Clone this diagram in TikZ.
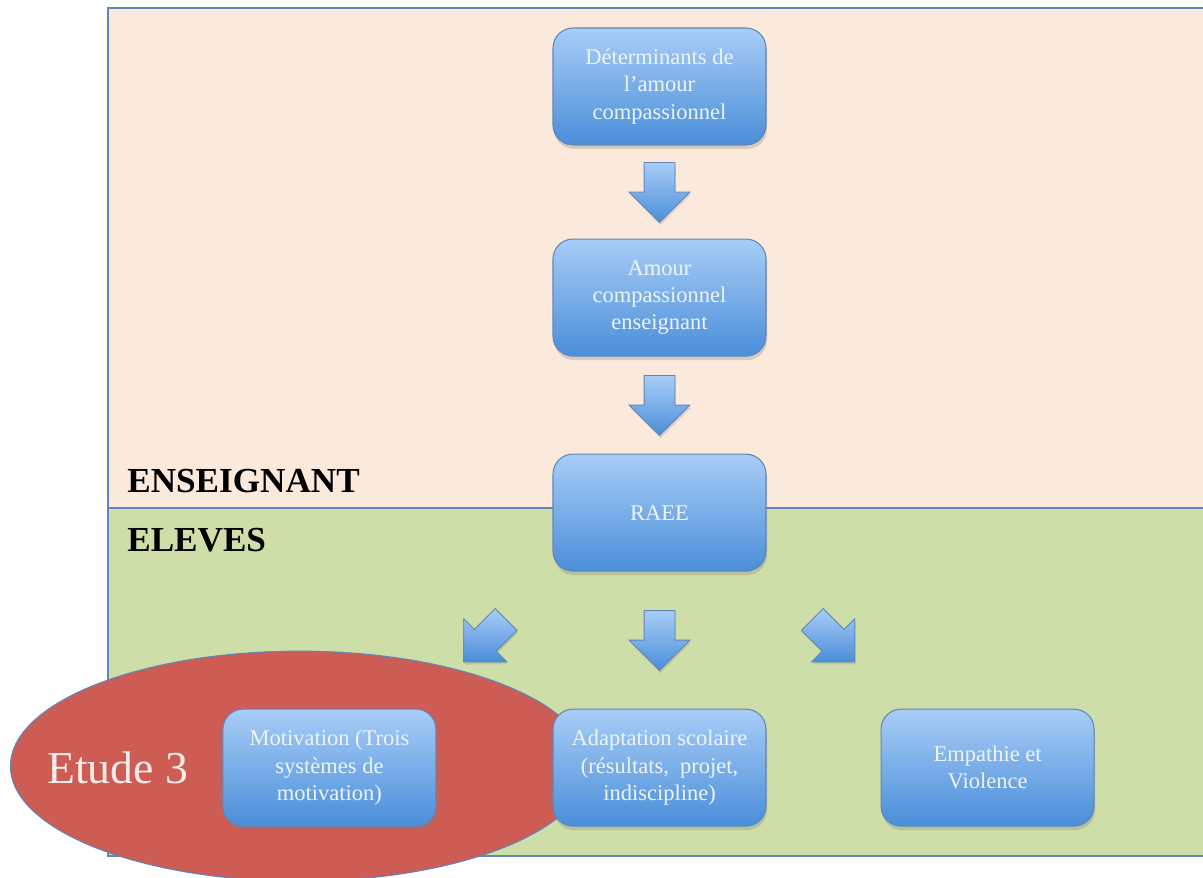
\documentclass[tikz,border=0pt]{standalone}
\usepackage{fontspec}
\setmainfont{Liberation Serif}
\usetikzlibrary{positioning,calc,shadows,shapes.arrows}

\definecolor{peach}{RGB}{251,233,220}
\definecolor{sage}{RGB}{206,222,168}
\definecolor{frameblue}{RGB}{96,134,186}
\definecolor{boxtop}{RGB}{168,205,247}
\definecolor{boxbot}{RGB}{74,142,217}
\definecolor{boxtext}{RGB}{238,244,252}
\definecolor{etudered}{RGB}{205,92,84}

\pgfdeclarelayer{bg}
\pgfdeclarelayer{mid}
\pgfsetlayers{bg,mid,main}

\tikzset{
	box/.style={rectangle, rounded corners=0.4cm, draw=frameblue, line width=0.6pt,
		top color=boxtop, bottom color=boxbot, minimum width=4.26cm, minimum height=2.34cm,
		align=center, text=boxtext, font=\fontsize{12.8}{15.5}\selectfont,
		drop shadow={opacity=0.3, shadow xshift=0.02cm, shadow yshift=-0.08cm}},
	fatarrow/.style={single arrow, draw=frameblue, line width=0.5pt, anchor=tail,
		top color=boxtop, bottom color=boxbot, inner sep=0.3cm,
		minimum height=1.2cm, minimum width=1.2cm, single arrow head extend=0.3cm,
		drop shadow={opacity=0.25, shadow xshift=0.02cm, shadow yshift=-0.05cm}},
	frame/.style={draw=frameblue, line width=0.85pt},
	lanelbl/.style={anchor=base west, inner sep=0, font=\bfseries\fontsize{20}{24}\selectfont}
}

\begin{document}
\begin{tikzpicture}
		%%%%% START %%%%%
		\useasboundingbox (0, 0) rectangle (24.06, -17.56);
		
		% teacher chain
		\node[box] (det) at (13.19, -1.73) {Déterminants de\\l’amour\\compassionnel};
		\node[box, below=1.86cm of det] (amour) {Amour\\compassionnel\\enseignant};
		\node[box, below=1.94cm of amour] (raee) {RAEE};
		
		% pupils row
		\node[box, below=2.74cm of raee] (adapt) {Adaptation scolaire\\(résultats,\ \ projet,\\indiscipline)};
		\node[box, left=2.32cm of adapt] (motiv) {Motivation (Trois\\systèmes de\\motivation)};
		\node[box, right=2.28cm of adapt] (emp) {Empathie et\\Violence};
		
		\begin{pgfonlayer}{bg}
			\fill[peach] (2.16, -0.16) rectangle (24.06, -10.16);
			\fill[sage] (2.16, -10.16) rectangle (24.06, -17.12);
			\draw[frame] (24.06, -0.16) -| (2.16, -17.12) -- (24.06, -17.12);
			\draw[frame] (2.16, -10.16) -- (24.06, -10.16);
			
			\node[lanelbl] (ens) at (2.54, -9.86) {ENSEIGNANT};
			\node[lanelbl] (elv) at (2.54, -11.04) {ELEVES};
		\end{pgfonlayer}
		
		\begin{pgfonlayer}{mid}
			\node[fatarrow, rotate=-90] (a1) at ($(det.south)!0.5!(amour.north)+(0, 0.6)$) {};
			\node[fatarrow, rotate=-90] (a2) at ($(amour.south)!0.5!(raee.north)+(0, 0.6)$) {};
			\node[fatarrow, rotate=-90] (a3) at ($(raee.south)!0.5!(adapt.north)+(0, 0.6)$) {};
			\node[fatarrow, rotate=-135] (a4) at ($(raee.south west)!0.5!(motiv.north east)+(0.24, 0.42)$) {};
			\node[fatarrow, rotate=-45] (a5) at ($(raee.south east)!0.5!(emp.north west)+(-0.23, 0.42)$) {};
			
			% etude 3
			\coordinate (ec) at ($(motiv.center)+(-0.6, 0.03)$);
			\draw[fill=etudered, draw=frameblue, line width=0.6pt] (ec) ellipse (5.78 and 2.3);
			\node[left=0.68cm of motiv, inner sep=0, text={rgb,255:red,248;green,236;blue,232},
				font=\fontsize{26}{30}\selectfont] (etude) {Etude 3};
		\end{pgfonlayer}
		
		%%%%% END %%%%%
\end{tikzpicture}
\end{document}
